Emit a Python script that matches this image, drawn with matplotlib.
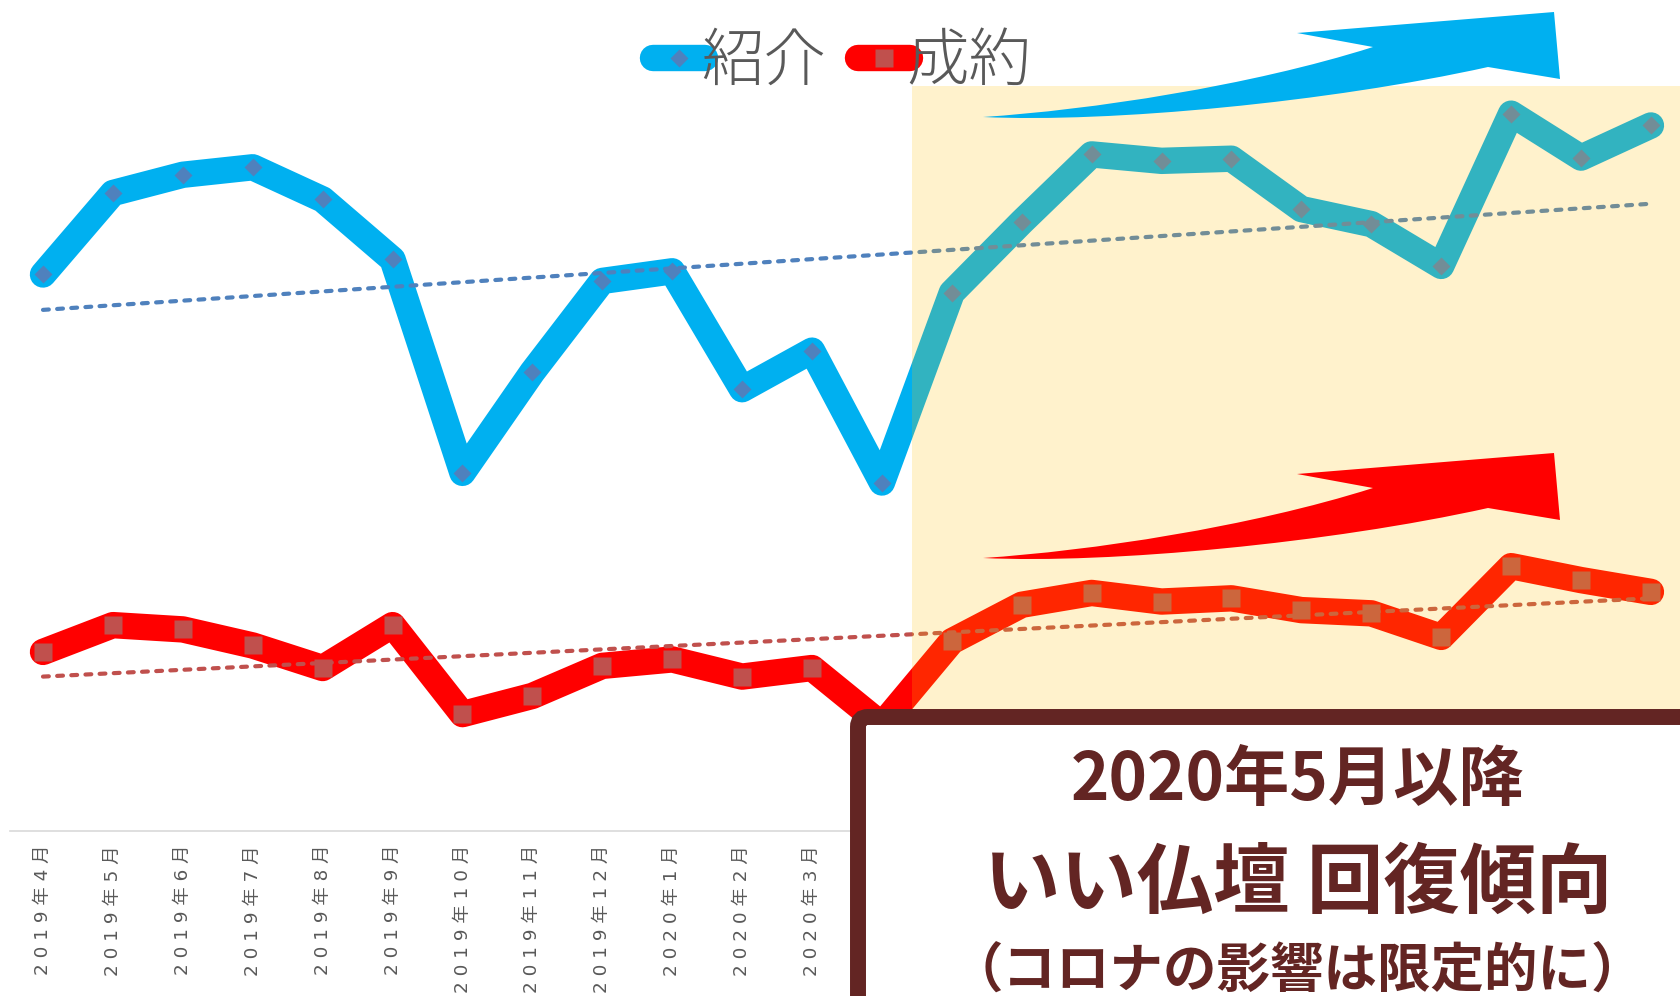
import numpy as np
import matplotlib.pyplot as plt
from matplotlib.path import Path
from matplotlib.patches import PathPatch, Rectangle, FancyBboxPatch
from matplotlib.lines import Line2D

# data (arbitrary units)
months = ["2019年4月", "2019年5月", "2019年6月", "2019年7月", "2019年8月", "2019年9月",
          "2019年10月", "2019年11月", "2019年12月", "2020年1月", "2020年2月", "2020年3月",
          "2020年4月", "2020年5月", "2020年6月", "2020年7月", "2020年8月", "2020年9月",
          "2020年10月", "2020年11月", "2020年12月", "2021年1月", "2021年2月", "2021年3月"]
intro = [103.8, 119.0, 122.4, 123.8, 117.8, 106.6, 66.8, 85.6, 102.6, 104.4, 82.4, 89.6,
         65.0, 100.4, 113.6, 126.2, 125.0, 125.4, 116.0, 113.2, 105.4, 133.8, 125.6, 131.6]
contract = [33.4, 38.4, 37.6, 34.6, 30.4, 38.4, 21.8, 25.2, 30.8, 32.0, 28.8, 30.4,
            19.8, 35.4, 42.2, 44.4, 42.8, 43.4, 41.2, 40.6, 36.2, 49.4, 46.8, 44.6]
# trend lines (start / end values as drawn)
trend_intro = [97.2, 117.0]
trend_contract = [28.8, 43.4]

BLUE = "#00B0F0"
RED = "#FF0000"
BROWN = "#632523"
GRAY = "#595959"
JP = ["Noto Sans CJK JP", "DejaVu Sans"]

W, H = 1681, 996
fig = plt.figure(figsize=(W / 100, H / 100), dpi=100)

# main chart
ax = fig.add_axes([10 / W, 165 / H, 1671 / W, 831 / H], zorder=1)
x = np.arange(len(months))
ax.plot(x, intro, color=BLUE, lw=19, solid_capstyle="round", solid_joinstyle="round",
        marker="D", ms=9.3, mfc="#4F81BD", mec="none", zorder=2)
ax.plot(x, contract, color=RED, lw=19, solid_capstyle="round", solid_joinstyle="round",
        marker="s", ms=13, mfc="#C0504D", mec="none", zorder=2)
ax.plot([x[0], x[-1]], trend_intro, color="#4F81BD", lw=3, linestyle=(0, (1.4, 2.0)),
        dash_capstyle="round", zorder=3)
ax.plot([x[0], x[-1]], trend_contract, color="#C0504D", lw=3, linestyle=(0, (1.4, 2.0)),
        dash_capstyle="round", zorder=3)

ax.set_xlim(-0.472, 23.43)
ax.set_ylim(0, 155)
ax.set_yticks([])
ax.set_xticks(x)
labels = ax.set_xticklabels([" ".join(m) for m in months], rotation=90, fontsize=13.2,
                            color=GRAY, family=["DejaVu Sans", "Noto Sans CJK JP"])
# labels from 2020年4月 on sit under the comment box
for lab in labels[12:]:
    lab.set_visible(False)
ax.tick_params(axis="x", length=0, pad=10)
for s in ["left", "right", "top"]:
    ax.spines[s].set_visible(False)
ax.spines["bottom"].set_color("#D9D9D9")
ax.spines["bottom"].set_linewidth(1.2)
ax.patch.set_alpha(0)

# legend
handles = [
    Line2D([], [], color=BLUE, lw=19, solid_capstyle="round", marker="D", ms=9.3,
           mfc="#4F81BD", mec="none"),
    Line2D([], [], color=RED, lw=19, solid_capstyle="round", marker="s", ms=13,
           mfc="#C0504D", mec="none"),
]
fig.legend(handles, ["紹介", "成約"], loc="center", bbox_to_anchor=(842 / W, 1 - 63 / H),
           ncol=2, frameon=False, handlelength=0.83, handletextpad=-0.05,
           columnspacing=0.5, borderpad=0, numpoints=1, labelcolor=GRAY,
           prop={"family": JP, "size": 45, "weight": "light"})

# overlay layer in pixel coordinates
ov = fig.add_axes([0, 0, 1, 1], zorder=2)
ov.set_xlim(0, W)
ov.set_ylim(H, 0)
ov.axis("off")

# highlighted period
ov.add_patch(Rectangle((912, 86), W - 912, 626, facecolor="#FFC000", alpha=0.2,
                       edgecolor="none", zorder=1))


def swoosh(dy):
    verts = [(983, 117), (1110, 123), (1330, 102), (1488, 67),
             (1560, 79), (1554, 12), (1297, 33), (1373, 47),
             (1250, 86), (1090, 110), (983, 117), (983, 117)]
    codes = [Path.MOVETO, Path.CURVE4, Path.CURVE4, Path.CURVE4,
             Path.LINETO, Path.LINETO, Path.LINETO, Path.LINETO,
             Path.CURVE4, Path.CURVE4, Path.CURVE4, Path.CLOSEPOLY]
    return Path([(vx, vy + dy) for vx, vy in verts], codes)


ov.add_patch(PathPatch(swoosh(0), facecolor=BLUE, edgecolor="none", zorder=2))
ov.add_patch(PathPatch(swoosh(441), facecolor=RED, edgecolor="none", zorder=2))

# comment box
ov.add_patch(FancyBboxPatch((858, 717), 900, 400, boxstyle="round,pad=0,rounding_size=10",
                            facecolor="white", edgecolor=BROWN, lw=11.5, zorder=3))
ov.text(1298, 780, "2020年5月以降", ha="center", va="center", fontsize=47,
        weight="bold", color=BROWN, family=JP, zorder=4)
ov.text(1298, 884, "いい仏壇 回復傾向", ha="center", va="center", fontsize=55,
        weight="bold", color=BROWN, family=JP, zorder=4)
ov.text(1297, 972, "（コロナの影響は限定的に）", ha="center", va="center", fontsize=38.5,
        weight="bold", color=BROWN, family=JP, zorder=4)

fig.savefig("out.png", dpi=100, facecolor="white")
